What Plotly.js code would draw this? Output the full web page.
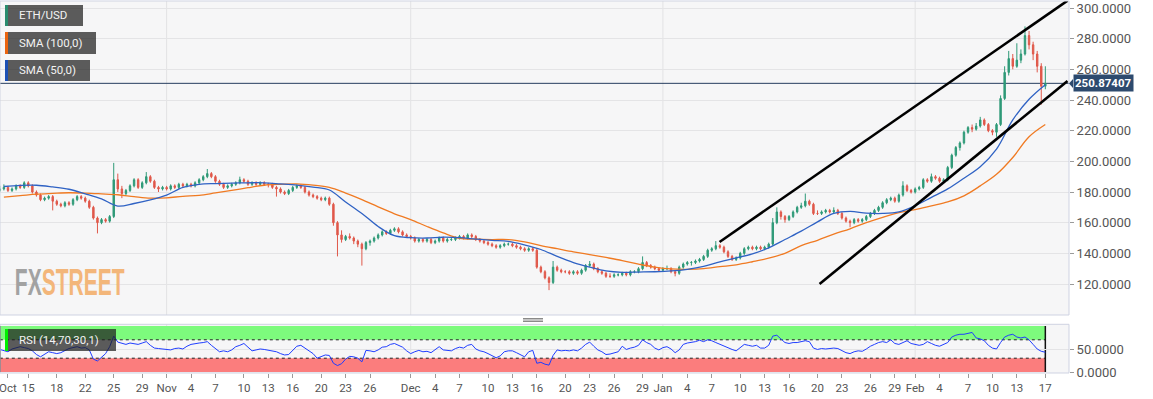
<!DOCTYPE html>
<html><head><meta charset="utf-8">
<script src="https://cdn.plot.ly/plotly-3.0.1.min.js"></script>
<style>html,body{margin:0;padding:0;background:#fff;}#chart{width:1153px;height:399px;}</style>
</head><body><div id="chart"></div>
<script>
// ---- ETH/USD 12h candles ----
const candleStartUTC = Date.UTC(2019, 9, 11, 12);
const candleStepHours = 12;
const OPEN = [
181,182,183,181,182,184,183,186,184,180, 178,175,176,177,174,172,171,173,172,175,
177,176,174,170,163,160,162,161,164,188, 182,179,181,184,188,183,186,190,187,183,
182,183,182,184,183,185,184,185,184,186, 188,190,192,190,187,185,183,184,185,186,
188,187,185,186,185,186,185,185,183,182, 180,179,181,183,184,183,180,178,177,176,
175,176,172,160,152,149,151,150,148,146, 143,147,148,150,152,154,153,155,156,154,
152,151,150,148,149,148,149,147,148,150, 148,149,149,150,151,150,152,151,149,148,
147,146,145,144,145,146,146,145,144,143, 142,143,142,131,128,124,121,131,129,128,
128,127,128,127,129,132,133,130,128,127, 125,125,126,126,127,126,128,128,130,134,
132,131,130,129,130,130,128,127,131,133, 134,134,135,136,138,142,143,145,144,141,
138,136,137,140,143,144,143,144,143,144, 146,160,167,164,162,164,167,170,171,174,
172,166,166,167,168,167,168,166,163,161, 160,162,161,162,164,166,168,170,173,175,
176,174,178,184,181,180,182,183,188,187, 190,189,187,188,196,204,209,212,219,222,
221,223,227,224,220,219,224,241,258,267, 262,266,270,282,276,270,262,249];
const HIGH = [
184,185,184,183,185,185,187,187,185,181, 179,177,178,178,175,173,174,174,176,178,
178,177,175,171,164,163,163,165,199,192, 184,182,185,189,189,187,193,191,188,184,
184,184,185,185,186,186,186,186,187,189, 191,195,193,191,188,186,185,186,187,190,
189,188,187,187,187,187,186,186,184,183, 181,182,184,185,185,184,181,179,178,177,
177,177,173,161,155,152,153,151,149,147, 148,149,151,153,155,155,156,157,157,155,
153,152,151,150,150,150,150,149,151,151, 150,150,151,152,152,153,153,152,150,149,
148,147,146,146,147,147,147,146,145,144, 144,144,143,132,129,125,135,132,130,129,
129,129,129,130,133,135,134,131,129,128, 127,127,127,128,128,129,129,131,138,135,
133,132,131,131,132,131,129,132,134,135, 135,136,137,139,143,144,148,146,145,142,
139,138,141,144,145,145,145,145,145,147, 163,170,168,165,165,168,171,173,179,175,
173,168,168,169,169,170,169,167,164,162, 163,163,163,165,167,169,171,174,176,177,
177,179,187,185,182,183,184,189,189,192, 191,190,189,197,205,210,213,220,223,224,
225,229,228,225,221,225,243,262,272,270, 277,273,288,285,278,272,264,262];
const LOW = [
180,181,180,180,181,182,182,183,179,177, 174,174,175,168,171,170,170,171,171,174,
175,173,169,162,153,159,160,160,163,180, 176,178,180,183,182,182,185,186,182,180,
181,181,181,182,182,183,183,183,183,185, 187,189,189,186,184,182,182,183,184,185,
186,184,184,184,184,184,183,182,177,179, 178,178,180,182,182,179,177,176,175,174,
174,171,158,138,147,148,149,146,144,132, 142,145,147,149,151,152,152,154,153,151,
150,149,147,147,147,147,146,146,147,147, 147,148,148,149,149,149,150,148,147,146,
145,144,143,143,144,145,144,143,142,141, 141,141,130,127,123,116,120,128,127,127,
126,126,126,126,128,131,129,127,126,124, 124,124,125,125,125,125,127,127,129,131,
130,129,128,128,129,127,125,126,130,132, 132,133,134,135,137,141,142,143,140,137,
135,135,136,139,142,142,142,142,142,143, 145,159,162,160,161,163,166,169,170,171,
165,165,165,166,166,166,165,162,160,157, 159,160,160,161,163,165,167,169,172,174,
173,173,177,180,179,179,181,182,186,186, 188,186,186,187,195,203,207,211,218,219,
220,222,223,219,217,216,223,240,256,260, 261,264,269,273,266,258,237,247];
const CLOSE = [
182,183,181,182,184,183,186,184,180,178, 175,176,177,174,172,171,173,172,175,177,
176,174,170,163,160,162,161,164,188,182, 179,181,184,188,183,186,190,187,183,182,
183,182,184,183,185,184,185,184,186,188, 190,192,190,187,185,183,184,185,186,188,
187,185,186,185,186,185,185,183,182,180, 179,181,183,184,183,180,178,177,176,175,
176,172,160,152,149,151,150,148,146,143, 147,148,150,152,154,153,155,156,154,152,
151,150,148,149,148,149,147,148,150,148, 149,149,150,151,150,152,151,149,148,147,
146,145,144,145,146,146,145,144,143,142, 143,142,131,128,124,121,131,129,128,128,
127,128,127,129,132,133,130,128,127,125, 125,126,126,127,126,128,128,130,134,132,
131,130,129,130,130,128,127,131,133,134, 134,135,136,138,142,143,145,144,141,138,
136,137,140,143,144,143,144,143,144,146, 160,167,164,162,164,167,170,171,174,172,
166,166,167,168,167,168,166,163,161,160, 162,161,162,164,166,168,170,173,175,176,
174,178,184,181,180,182,183,188,187,190, 189,187,188,196,204,209,212,219,222,221,
223,227,224,220,219,224,241,258,267,262, 266,270,282,276,270,262,249,250.87407];

// ---- RSI (14,70,30,1), same 12h steps ----
const RSI = [
49,46,44,50,53,55,53,51,46,38, 33,38,44,42,40,42,46,51,53,55,
52,53,48,28,24,33,40,55,78,65, 62,60,63,62,60,63,66,58,52,51,
50,49,48,51,52,50,56,60,62,63, 64,66,58,50,44,46,44,48,55,58,
62,54,46,48,50,49,47,46,44,40, 37,38,48,56,58,52,46,40,30,34,
37,36,19,14,18,28,34,33,30,22, 47,46,44,48,54,55,60,62,58,54,
46,40,44,47,44,45,42,48,55,48, 47,46,51,54,52,58,60,50,46,44,
40,36,31,35,44,46,46,42,37,33, 44,47,19,21,17,15,36,48,46,47,
46,48,46,52,60,65,56,48,44,38, 39,42,44,56,49,52,54,58,70,64,
60,52,48,53,55,50,42,48,60,63, 64,66,69,66,70,68,64,60,56,52,
49,46,53,60,58,56,58,52,52,58, 78,80,72,64,62,64,64,66,68,66,
52,49,51,50,51,52,51,47,42,40, 44,46,45,50,56,60,64,66,64,70,
62,60,64,68,62,60,58,60,66,62, 58,56,60,64,76,80,82,82,84,86,
74,72,68,58,52,50,64,76,80,82, 76,74,76,70,60,50,45,43];

// ---- moving averages, read every 2 days from Oct 12 ----
const smaStartUTC = Date.UTC(2019, 9, 12);
const smaStepDays = 2;
const SMA50 = [
183.6,184.3,184.4,183.3,181.8,178.8,175.5,170.8,172.5,174.8,
178,183,185,185.5,185.8,186,186,185.3,184.5,183.2,
181.3,173.5,166,157.5,151.5,150.2,150,150.5,150.2,149.3,
148.5,147.8,145.5,142.5,138,134,131,128.5,127.6,127.8,
128,128.5,129.6,131.5,134.5,137,139.7,143.5,149,154.5,
160.5,166,167.3,166.2,166,167,171,176.5,182,189,
196.5,208,227,240.5,250];
const SMA100 = [
176.7,177.6,178.6,179.1,179.5,179.3,178.8,178.2,177,176,
176.2,177.2,177.8,179.4,181,182.8,184.4,185,185.3,184.5,
183,179.3,175,170.3,165.8,162,157.5,153.3,149.8,149.2,
149,149,147.5,145,143,141,139.2,137.3,135.3,133,
131,129.8,129.6,130,131.3,132.5,134.5,136.8,140,145,
148.5,152.5,156,160,163.5,166.5,168.5,171,173.5,177.5,
184,191.5,202.5,216,224];

// ---- trend channel (drawn lines), last price, ticks ----
const channelUpperX = ['2020-01-07 23:00', '2020-02-19 17:30'];
const channelUpperY = [147.4, 304.8];
const channelLowerX = ['2020-01-20 06:00', '2020-02-19 17:30'];
const channelLowerY = [120, 252.4];
const lastPrice = 250.87407;
const priceTicks = [120,140,160,180,200,220,240,260,280,300];
const rsiTicks = [0, 50];
const rsiOverbought = [70, 100];
const rsiOversold = [0, 30];
const monthStarts = ['2019-11-01','2019-12-01','2020-01-01','2020-02-01'];
const xTickVals = ['2019-10-12 12:00','2019-10-15','2019-10-18 12:00','2019-10-22','2019-10-25 12:00','2019-10-29',
 '2019-11-01','2019-11-04','2019-11-07','2019-11-10 12:00','2019-11-13 12:00','2019-11-16 12:00','2019-11-20','2019-11-23','2019-11-26',
 '2019-12-01','2019-12-04','2019-12-07','2019-12-10 12:00','2019-12-13 12:00','2019-12-16 12:00','2019-12-20','2019-12-23','2019-12-26','2019-12-29 12:00',
 '2020-01-01','2020-01-04','2020-01-07','2020-01-10 12:00','2020-01-13 12:00','2020-01-16 12:00','2020-01-20','2020-01-23','2020-01-26 12:00','2020-01-29 12:00',
 '2020-02-01','2020-02-04','2020-02-07 12:00','2020-02-10 12:00','2020-02-13 12:00','2020-02-17'];
const xTickText = ['Oct','15','18','22','25','29','Nov','4','7','10','13','16','20','23','26',
 'Dec','4','7','10','13','16','20','23','26','29','Jan','4','7','10','13','16','20','23','26','29',
 'Feb','4','7','10','13','17'];

const fmt = ms => new Date(ms).toISOString().slice(0,16).replace('T',' ');
const candleX = CLOSE.map((_, i) => fmt(candleStartUTC + i*candleStepHours*3600e3));
const smaX = SMA50.map((_, k) => fmt(smaStartUTC + k*smaStepDays*86400e3));

// pixel helpers for decorations (plot area 1069 x 372, top at 1px)
const PW = 1069, PH = 372, PT = 1;
const X = p => p / PW;
const Y = p => (PT + PH - p) / PH;
const FONT = 'Roboto, Liberation Sans, Arial, sans-serif';

const data = [
  {type:'candlestick', x:candleX, open:OPEN, high:HIGH, low:LOW, close:CLOSE, xaxis:'x', yaxis:'y',
   increasing:{line:{color:'#2f9a78', width:1}, fillcolor:'#2f9a78'},
   decreasing:{line:{color:'#e0584a', width:1}, fillcolor:'#e0584a'},
   whiskerwidth:0, hoverinfo:'skip'},
  {type:'scatter', mode:'lines', x:smaX, y:SMA100, line:{color:'#f07a22', width:1.3, shape:'spline', smoothing:1}, xaxis:'x', yaxis:'y', hoverinfo:'skip'},
  {type:'scatter', mode:'lines', x:smaX, y:SMA50, line:{color:'#2f62c4', width:1.3, shape:'spline', smoothing:1}, xaxis:'x', yaxis:'y', hoverinfo:'skip'},
  {type:'scatter', mode:'lines', x:channelUpperX, y:channelUpperY, line:{color:'#000', width:2.6}, xaxis:'x', yaxis:'y', hoverinfo:'skip'},
  {type:'scatter', mode:'lines', x:channelLowerX, y:channelLowerY, line:{color:'#000', width:2.6}, xaxis:'x', yaxis:'y', hoverinfo:'skip'},
  {type:'scatter', mode:'lines', x:candleX, y:RSI, line:{color:'#1f3dff', width:1}, xaxis:'x', yaxis:'y2', hoverinfo:'skip'}
];

const firstT = candleX[0], lastT = candleX[candleX.length-1];
const shapes = [];
monthStarts.forEach(m => {
  shapes.push({type:'line', xref:'x', yref:'y domain', x0:m, x1:m, y0:0, y1:1, line:{color:'#e2e2e4', width:1}, layer:'below'});
  shapes.push({type:'line', xref:'x', yref:'y2 domain', x0:m, x1:m, y0:0, y1:1, line:{color:'#e2e2e4', width:1}, layer:'below'});
});
shapes.push({type:'rect', xref:'x', yref:'y2', x0:firstT, x1:lastT, y0:rsiOverbought[0], y1:rsiOverbought[1], fillcolor:'#7dfb7d', line:{width:0}, layer:'below'});
shapes.push({type:'rect', xref:'x', yref:'y2', x0:firstT, x1:lastT, y0:rsiOversold[0], y1:rsiOversold[1], fillcolor:'#fb7d7d', line:{width:0}, layer:'below'});
[rsiOverbought[0], rsiOversold[1]].forEach(v => shapes.push({type:'line', xref:'x', yref:'y2', x0:firstT, x1:lastT, y0:v, y1:v, line:{color:'#222', width:1, dash:'dot'}, layer:'below'}));
[firstT, lastT].forEach(t => shapes.push({type:'line', xref:'x', yref:'y2', x0:t, x1:t, y0:rsiOversold[0], y1:rsiOverbought[1], line:{color:'#111', width:1.5}, layer:'below'}));
shapes.push({type:'line', xref:'paper', yref:'y', x0:0, x1:1, y0:lastPrice, y1:lastPrice, line:{color:'#263d5e', width:1}, layer:'below'});
shapes.push({type:'rect', xref:'paper', yref:'y domain', x0:0, x1:1, y0:0, y1:1, line:{color:'#cfd3e2', width:1}, layer:'above'});
shapes.push({type:'rect', xref:'paper', yref:'y2 domain', x0:0, x1:1, y0:0, y1:1, line:{color:'#cfd3e2', width:1}, layer:'above'});
// small pointer of the last-price tag
shapes.push({type:'path', xref:'paper', yref:'paper', path:'M ' + X(1069) + ' ' + Y(83.5) + ' L ' + X(1073) + ' ' + Y(79) + ' L ' + X(1073) + ' ' + Y(88) + ' Z',
  fillcolor:'#2d4a6e', line:{width:0}, layer:'above'});
// legend boxes
const boxes = [
  {x0:5, x1:83, y0:5, y1:26, c:'#2a8c6e', t:'ETH/USD'},
  {x0:5, x1:96, y0:32, y1:54, c:'#ea6410', t:'SMA (100,0)'},
  {x0:5, x1:90, y0:60, y1:81, c:'#1c50b4', t:'SMA (50,0)'},
  {x0:5, x1:116, y0:329, y1:351, c:'#00f000', t:'RSI (14,70,30,1)'}
];
const annotations = [];
boxes.forEach(b => {
  shapes.push({type:'rect', xref:'paper', yref:'paper', x0:X(b.x0), x1:X(b.x1), y0:Y(b.y1), y1:Y(b.y0), fillcolor:'rgba(30,30,30,0.72)', line:{width:0}, layer:'above'});
  shapes.push({type:'rect', xref:'paper', yref:'paper', x0:X(b.x0), x1:X(b.x0+3), y0:Y(b.y1), y1:Y(b.y0), fillcolor:b.c, line:{width:0}, layer:'above'});
  annotations.push({xref:'paper', yref:'paper', x:X(17), y:Y((b.y0+b.y1)/2), xanchor:'left', yanchor:'middle', text:b.t, showarrow:false, font:{family:FONT, size:11.5, color:'#f2f2f2'}});
});
// splitter handle
[318.5, 320, 321.5].forEach(p => shapes.push({type:'line', xref:'paper', yref:'paper', x0:X(523), x1:X(543), y0:Y(p), y1:Y(p), line:{color:'#8a8a8a', width:1}}));

annotations.push({xref:'paper', yref:'y', x:1, y:lastPrice, xanchor:'left', yanchor:'middle', xshift:4, showarrow:false,
  text:'<b>' + lastPrice.toFixed(5) + '</b>', bgcolor:'#2d4a6e', borderpad:1, font:{family:FONT, size:11.5, color:'#ffffff'}});
// watermark (one text, squeezed horizontally to the reference's 110 px)
const watermarkText = 'FXSTREET';
const watermarkWidth = 110;
annotations.push({xref:'paper', yref:'paper', x:X(70), y:Y(282), xanchor:'center', yanchor:'middle', showarrow:false,
  text:'<b><span style="color:#a2a2a2">FX</span><span style="color:#f3b67a">STREET</span></b>',
  font:{family:'Liberation Sans, Arial, sans-serif', size:37}});

const axisFont = {family:FONT, size:13, color:'#555'};
const layout = {
  width:1153, height:399, margin:{l:0, r:84, t:1, b:26, pad:0},
  paper_bgcolor:'#ffffff', plot_bgcolor:'#f6f6f7', showlegend:false, boxgap:0.5,
  font:{family:FONT, size:12, color:'#555'},
  xaxis:{type:'date', anchor:'y2', range:['2019-10-11 12:31','2020-02-19 21:50'], tickmode:'array', tickvals:xTickVals, ticktext:xTickText,
    ticks:'outside', ticklen:4, tickcolor:'#9a9a9a', showgrid:false, zeroline:false, showline:false, automargin:false, ticklabeloverflow:'allow',
    rangeslider:{visible:false}, fixedrange:true, tickfont:{family:FONT, size:11.5, color:'#555'}},
  yaxis:{domain:[Y(315), 1], range:[99.78, 304.565], side:'right', anchor:'x', tickmode:'array', tickvals:priceTicks, tickformat:'.4f',
    ticks:'outside', ticklen:4, tickcolor:'#9a9a9a', gridcolor:'#e4e4e6', zeroline:false, showline:false, automargin:false, tickfont:axisFont},
  yaxis2:{domain:[0, Y(324.3)], range:[-2.17, 103.7], side:'right', anchor:'x', tickmode:'array', tickvals:rsiTicks, tickformat:'.4f',
    ticks:'outside', ticklen:4, tickcolor:'#9a9a9a', gridcolor:'#e4e4e6', zeroline:false, showline:false, automargin:false, tickfont:axisFont},
  shapes:shapes, annotations:annotations
};

Plotly.newPlot('chart', data, layout, {staticPlot:true, displayModeBar:false}).then(gd => {
  gd.querySelectorAll('.annotation-text').forEach(t => {
    if (t.textContent === watermarkText) {
      const g = t.parentNode;
      const bb = t.getBBox();
      const cx = bb.x + bb.width / 2;
      const k = watermarkWidth / bb.width;
      const prev = g.getAttribute('transform') || '';
      g.setAttribute('transform', prev + ' translate(' + cx + ',0) scale(' + k + ',1) translate(' + (-cx) + ',0)');
    }
  });
});
</script>
</body></html>
